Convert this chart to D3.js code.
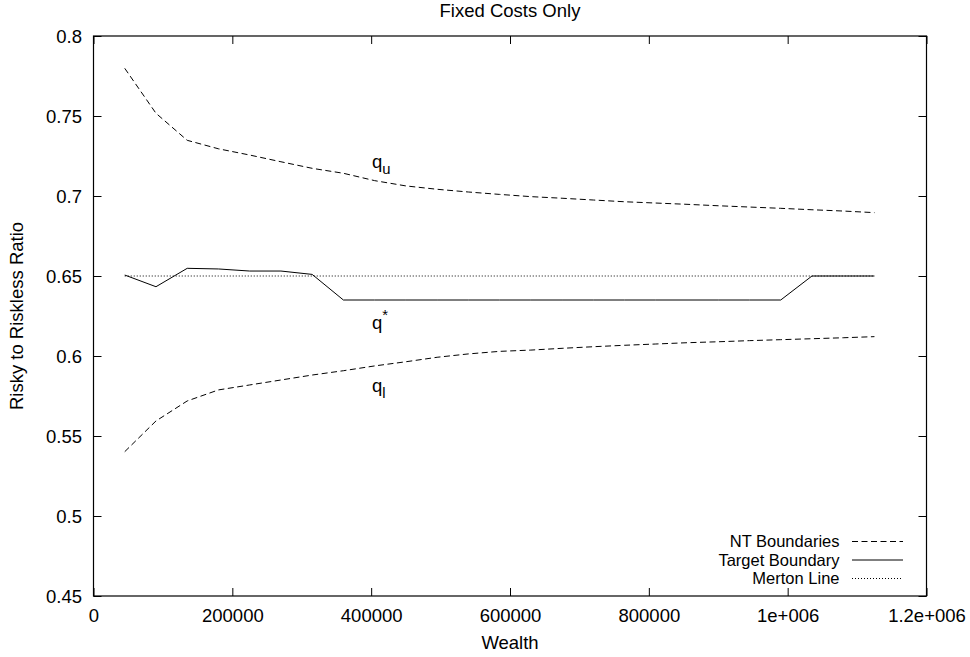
<!DOCTYPE html>
<html>
<head>
<meta charset="utf-8">
<script src="https://cdn.jsdelivr.net/npm/d3@7"></script>
<style>
  html, body { margin: 0; padding: 0; background: #fff; }
  svg { display: block; }
  text { font-family: "Liberation Sans", Arial, sans-serif; fill: #000; }
</style>
</head>
<body>
<svg id="chart" width="970" height="657"></svg>
<script>
// Wealth grid (x values shared by all series)
const wealth = [45000, 90000, 135000, 180000, 225000, 270000, 315000, 360000,
  405000, 450000, 495000, 540000, 585000, 630000, 675000, 720000, 765000,
  810000, 855000, 900000, 945000, 990000, 1035000, 1080000, 1125000];

// Upper no-trade boundary q_u
const upperBoundary = [0.7798, 0.7517, 0.7348, 0.7295, 0.7256, 0.7214, 0.7173,
  0.7142, 0.7096, 0.7063, 0.7042, 0.7025, 0.7010, 0.6996, 0.6986, 0.6975,
  0.6964, 0.6956, 0.6948, 0.6939, 0.6931, 0.6923, 0.6914, 0.6906, 0.6896];

// Lower no-trade boundary q_l
const lowerBoundary = [0.5402, 0.5594, 0.5719, 0.5788, 0.5819, 0.5850, 0.5881,
  0.5908, 0.5938, 0.5964, 0.5992, 0.6013, 0.6029, 0.6037, 0.6048, 0.6058,
  0.6067, 0.6075, 0.6083, 0.6089, 0.6096, 0.6102, 0.6108, 0.6114, 0.6121];

// Target boundary q*
const targetBoundary = [0.6506, 0.6433, 0.6548, 0.6544, 0.6531, 0.6531, 0.6510,
  0.6350, 0.6350, 0.6350, 0.6350, 0.6350, 0.6350, 0.6350, 0.6350, 0.6350,
  0.6350, 0.6350, 0.6350, 0.6350, 0.6350, 0.6350, 0.6500, 0.6500, 0.6500];

// Merton line (constant ratio)
const mertonLine = [0.65, 0.65, 0.65, 0.65, 0.65, 0.65, 0.65, 0.65, 0.65, 0.65,
  0.65, 0.65, 0.65, 0.65, 0.65, 0.65, 0.65, 0.65, 0.65, 0.65, 0.65, 0.65,
  0.65, 0.65, 0.65];

// Axis ticks and their labels
const xTicks = [0, 200000, 400000, 600000, 800000, 1000000, 1200000];
const xTickLabels = ["0", "200000", "400000", "600000", "800000", "1e+006", "1.2e+006"];
const yTicks = [0.45, 0.5, 0.55, 0.6, 0.65, 0.7, 0.75, 0.8];
const yTickLabels = ["0.45", "0.5", "0.55", "0.6", "0.65", "0.7", "0.75", "0.8"];

const svg = d3.select("#chart");
const FS = 18.5;
const legendFS = 16.5;
const plotLeft = 93.5, plotRight = 926.5, plotTop = 36, plotBottom = 596;

const x = d3.scaleLinear().domain([0, 1200000]).range([plotLeft, plotRight]);
const y = d3.scaleLinear().domain([0.45, 0.8]).range([plotBottom, plotTop]);

// Title
svg.append("text")
  .attr("x", (plotLeft + plotRight) / 2).attr("y", 17)
  .attr("text-anchor", "middle").style("font-size", FS + "px")
  .text("Fixed Costs Only");

// Axes with inward ticks on all four sides
const tickLen = 8;
const gx = svg.append("g").attr("transform", `translate(0,${plotBottom})`)
  .call(d3.axisBottom(x).tickValues(xTicks).tickSizeInner(-tickLen).tickSizeOuter(0)
    .tickPadding(12.6).tickFormat((d, i) => xTickLabels[i]));
const gxt = svg.append("g").attr("transform", `translate(0,${plotTop})`)
  .call(d3.axisTop(x).tickValues(xTicks).tickSizeInner(-tickLen).tickSizeOuter(0)
    .tickFormat(""));
const gy = svg.append("g").attr("transform", `translate(${plotLeft},0)`)
  .call(d3.axisLeft(y).tickValues(yTicks).tickSizeInner(-tickLen).tickSizeOuter(0)
    .tickPadding(11.5).tickFormat((d, i) => yTickLabels[i]));
const gyr = svg.append("g").attr("transform", `translate(${plotRight},0)`)
  .call(d3.axisRight(y).tickValues(yTicks).tickSizeInner(-tickLen).tickSizeOuter(0)
    .tickFormat(""));

[gx, gxt, gy, gyr].forEach(g => {
  g.select(".domain").remove();
  g.selectAll(".tick line").attr("stroke", "#000").attr("stroke-width", 1);
  g.selectAll("text").attr("font-family", null).style("font-size", FS + "px").attr("fill", "#000");
});
gy.selectAll(".tick text").attr("dy", "0.37em");

// Plot border
svg.append("rect")
  .attr("x", plotLeft).attr("y", plotTop)
  .attr("width", plotRight - plotLeft).attr("height", plotBottom - plotTop)
  .attr("fill", "none").attr("stroke", "#000").attr("stroke-width", 1.2);

// Axis titles
svg.append("text")
  .attr("x", (plotLeft + plotRight) / 2).attr("y", 649)
  .attr("text-anchor", "middle").style("font-size", FS + "px")
  .text("Wealth");
svg.append("text")
  .attr("transform", `translate(23,${(plotTop + plotBottom) / 2}) rotate(-90)`)
  .attr("text-anchor", "middle").style("font-size", FS + "px")
  .text("Risky to Riskless Ratio");

// Series
const line = d3.line().x(d => x(d[0])).y(d => y(d[1]));
const pairs = vals => wealth.map((w, i) => [w, vals[i]]);

const dashNT = "6,3.5";
const dashMerton = "1,2";

svg.append("path").datum(pairs(mertonLine)).attr("d", line)
  .attr("fill", "none").attr("stroke", "#000").attr("stroke-width", 1)
  .attr("stroke-dasharray", dashMerton);
svg.append("path").datum(pairs(upperBoundary)).attr("d", line)
  .attr("fill", "none").attr("stroke", "#000").attr("stroke-width", 1)
  .attr("stroke-dasharray", dashNT);
svg.append("path").datum(pairs(lowerBoundary)).attr("d", line)
  .attr("fill", "none").attr("stroke", "#000").attr("stroke-width", 1)
  .attr("stroke-dasharray", dashNT);
svg.append("path").datum(pairs(targetBoundary)).attr("d", line)
  .attr("fill", "none").attr("stroke", "#000").attr("stroke-width", 1);

// Curve labels
function curveLabel(px, py, main, sub, sup) {
  const t = svg.append("text").attr("x", px).attr("y", py).style("font-size", FS + "px");
  t.append("tspan").text(main);
  if (sub) t.append("tspan").attr("dy", 6).style("font-size", (FS * 0.8) + "px").text(sub);
  if (sup) t.append("tspan").attr("dy", -9).style("font-size", (FS * 0.8) + "px").text(sup);
}
curveLabel(372, 168, "q", "u", null);
curveLabel(372, 329, "q", null, "*");
curveLabel(372, 391.5, "q", "l", null);

// Legend (right-aligned labels with line samples)
const legend = [
  { label: "NT Boundaries", dash: dashNT, y: 541 },
  { label: "Target Boundary", dash: null, y: 559.5 },
  { label: "Merton Line", dash: dashMerton, y: 578 }
];
const lg = svg.append("g");
legend.forEach(d => {
  lg.append("text").attr("x", 839.5).attr("y", d.y + 6)
    .attr("text-anchor", "end").style("font-size", legendFS + "px").text(d.label);
  lg.append("line").attr("x1", 852).attr("x2", 903).attr("y1", d.y + 0.5).attr("y2", d.y + 0.5)
    .attr("stroke", "#000").attr("stroke-width", 1)
    .attr("stroke-dasharray", d.dash);
});
</script>
</body>
</html>
